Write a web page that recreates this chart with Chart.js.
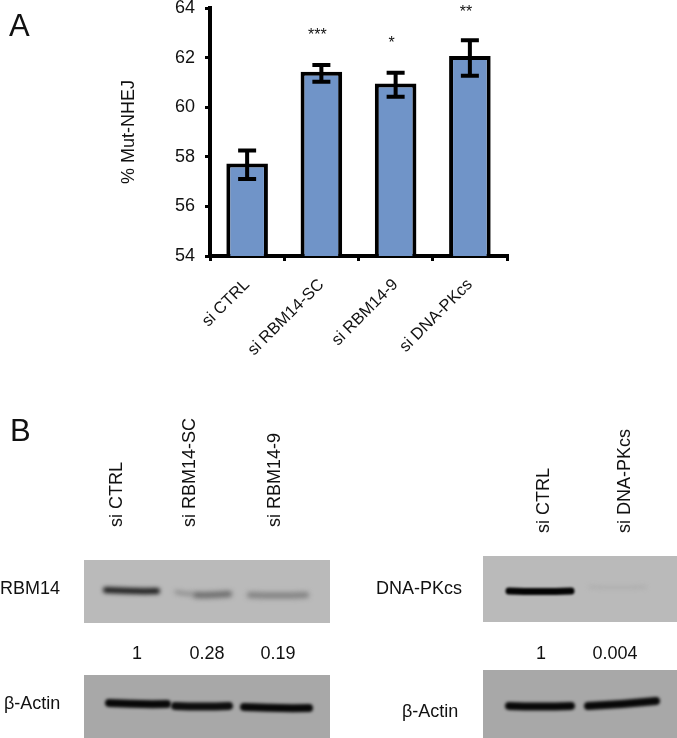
<!DOCTYPE html>
<html>
<head>
<meta charset="utf-8">
<title>Mut-NHEJ</title>
<script src="https://cdn.jsdelivr.net/npm/chart.js@4"></script>
<style>
  html, body { margin: 0; padding: 0; background: #fff; }
  canvas { display: block; }
</style>
</head>
<body>
<canvas id="nhejChart" width="677" height="738"></canvas>
<script>
// ---- DATA ----
const categories = ['si CTRL', 'si RBM14-SC', 'si RBM14-9', 'si DNA-PKcs'];
const mutNhej = [57.73, 61.43, 60.96, 62.06];
const errorHigh = [58.25, 61.7, 61.39, 62.7];
const errorLow = [57.1, 61.03, 60.42, 61.27];
const significance = ['', '***', '*', '**'];
const significanceLevel = [null, 63.0, 62.67, 63.92];
const yTicks = [54, 56, 58, 60, 62, 64];

const blotLanesLeft = ['si CTRL', 'si RBM14-SC', 'si RBM14-9'];
const blotRatiosLeft = ['1', '0.28', '0.19'];
const blotLanesRight = ['si CTRL', 'si DNA-PKcs'];
const blotRatiosRight = ['1', '0.004'];

const FONT = '"Liberation Sans", Arial, sans-serif';
const INK = '#111';

// ---- ERROR BARS + SIGNIFICANCE STARS ----
const errorBarPlugin = {
  id: 'errorBars',
  afterDatasetsDraw(chart) {
    const { ctx, scales: { x, y } } = chart;
    ctx.save();
    ctx.strokeStyle = '#000';
    ctx.lineWidth = 4;
    categories.forEach((c, i) => {
      const cx = x.getPixelForValue(i);
      const hi = y.getPixelForValue(errorHigh[i]);
      const lo = y.getPixelForValue(errorLow[i]);
      ctx.beginPath();
      ctx.moveTo(cx, hi); ctx.lineTo(cx, lo);
      ctx.moveTo(cx - 9, hi); ctx.lineTo(cx + 9, hi);
      ctx.moveTo(cx - 9, lo); ctx.lineTo(cx + 9, lo);
      ctx.stroke();
    });
    ctx.fillStyle = INK;
    ctx.font = '16px ' + FONT;
    ctx.textAlign = 'center';
    ctx.textBaseline = 'middle';
    significance.forEach((s, i) => {
      if (!s) return;
      ctx.fillText(s, x.getPixelForValue(i) - 4, y.getPixelForValue(significanceLevel[i]) + 3);
    });
    ctx.restore();
  }
};

// ---- PANEL B (western blots) ----
function drawBand(ctx, x0, y0, x1, y1, thick, color, blur) {
  ctx.save();
  ctx.filter = 'blur(' + blur + 'px)';
  ctx.strokeStyle = color;
  ctx.lineWidth = thick;
  ctx.lineCap = 'round';
  ctx.beginPath();
  ctx.moveTo(x0, y0);
  ctx.quadraticCurveTo((x0 + x1) / 2, (y0 + y1) / 2 + 1, x1, y1);
  ctx.stroke();
  ctx.restore();
}

function label(ctx, text, x, y, align, size) {
  ctx.font = (size || 18) + 'px ' + FONT;
  ctx.textAlign = align || 'left';
  ctx.textBaseline = 'middle';
  ctx.fillStyle = INK;
  ctx.fillText(text, x, y);
}

function laneLabel(ctx, text, x, y) {
  ctx.save();
  ctx.translate(x, y);
  ctx.rotate(-Math.PI / 2);
  ctx.font = '18px ' + FONT;
  ctx.textAlign = 'left';
  ctx.textBaseline = 'alphabetic';
  ctx.fillStyle = INK;
  ctx.fillText(text, 0, 0);
  ctx.restore();
}

const blotPlugin = {
  id: 'blots',
  afterDraw(chart) {
    const ctx = chart.ctx;
    ctx.save();

    label(ctx, 'A', 9, 27, 'left', 31);
    label(ctx, 'B', 10, 432, 'left', 31);

    // gel backgrounds
    ctx.fillStyle = '#bababa';
    ctx.fillRect(84, 560, 246, 63);
    ctx.fillRect(483, 556, 194, 66);
    ctx.fillStyle = '#a8a8a8';
    ctx.fillRect(84, 675, 246, 63);
    ctx.fillRect(483, 670, 194, 68);

    // left blot
    drawBand(ctx, 106, 590, 157, 591, 6, '#1c1c1c', 2);
    drawBand(ctx, 176, 592, 192, 594, 3, 'rgba(90,90,90,.6)', 2.5);
    drawBand(ctx, 196, 595, 229, 594, 6, 'rgba(85,85,85,.8)', 2.5);
    drawBand(ctx, 250, 595, 306, 595, 6, 'rgba(110,110,110,.75)', 2.5);
    drawBand(ctx, 109, 703, 167, 704, 8, '#080808', 1.8);
    drawBand(ctx, 175, 706, 229, 706, 8, '#0d0d0d', 1.8);
    drawBand(ctx, 244, 707, 309, 708, 8, '#080808', 1.8);

    // right blot
    drawBand(ctx, 509, 591, 571, 591, 7, '#030303', 1.2);
    drawBand(ctx, 590, 587, 645, 587, 3, 'rgba(165,165,165,.6)', 2);
    drawBand(ctx, 509, 706, 571, 706, 8, '#080808', 1.8);
    drawBand(ctx, 588, 706, 656, 701, 8, '#080808', 1.8);

    // lane labels and ratios
    [122, 195, 280].forEach((x, i) => laneLabel(ctx, blotLanesLeft[i], x, 527));
    [549, 630].forEach((x, i) => laneLabel(ctx, blotLanesRight[i], x, 533));
    [137, 207, 278].forEach((x, i) => label(ctx, blotRatiosLeft[i], x, 654, 'center'));
    [541, 615].forEach((x, i) => label(ctx, blotRatiosRight[i], x, 654, 'center'));

    label(ctx, 'RBM14', 0, 589);
    label(ctx, 'β-Actin', 4, 704);
    label(ctx, 'DNA-PKcs', 376, 589);
    label(ctx, 'β-Actin', 402, 712);

    ctx.restore();
  }
};

// ---- PANEL A (bar chart) ----
new Chart(document.getElementById('nhejChart'), {
  type: 'bar',
  data: {
    labels: categories,
    datasets: [{
      label: '% Mut-NHEJ',
      data: mutNhej,
      backgroundColor: '#7094c8',
      borderColor: '#000',
      borderWidth: 4,
      borderSkipped: false,
      categoryPercentage: 1,
      barPercentage: 0.56
    }]
  },
  options: {
    responsive: false,
    animation: false,
    layout: { padding: { left: 118, right: 170, top: 8, bottom: 372 } },
    plugins: {
      legend: { display: false },
      tooltip: { enabled: false }
    },
    scales: {
      x: {
        afterFit: scale => {
          scale.height = 110;
          scale.paddingLeft = 0;
          scale.paddingRight = 0;
        },
        grid: {
          offset: true,
          drawOnChartArea: false,
          color: '#000',
          lineWidth: 3,
          tickLength: 5,
          tickColor: '#000'
        },
        border: { color: '#000', width: 4 },
        ticks: {
          color: INK,
          font: { family: FONT, size: 16.5 },
          minRotation: 45,
          maxRotation: 45,
          autoSkip: false,
          padding: 14
        }
      },
      y: {
        min: 54,
        max: 64,
        afterBuildTicks: scale => { scale.ticks = yTicks.map(v => ({ value: v })); },
        afterFit: scale => {
          scale.width = 92;
          scale.paddingTop = 0;
          scale.paddingBottom = 0;
        },
        title: {
          display: true,
          text: '% Mut-NHEJ',
          color: INK,
          font: { family: FONT, size: 18 },
          padding: 0
        },
        grid: {
          drawOnChartArea: false,
          color: '#000',
          lineWidth: 3,
          tickLength: 5,
          tickColor: '#000'
        },
        border: { color: '#000', width: 4 },
        ticks: {
          color: INK,
          font: { family: FONT, size: 18 },
          padding: 10
        }
      }
    }
  },
  plugins: [errorBarPlugin, blotPlugin]
});
</script>
</body>
</html>
